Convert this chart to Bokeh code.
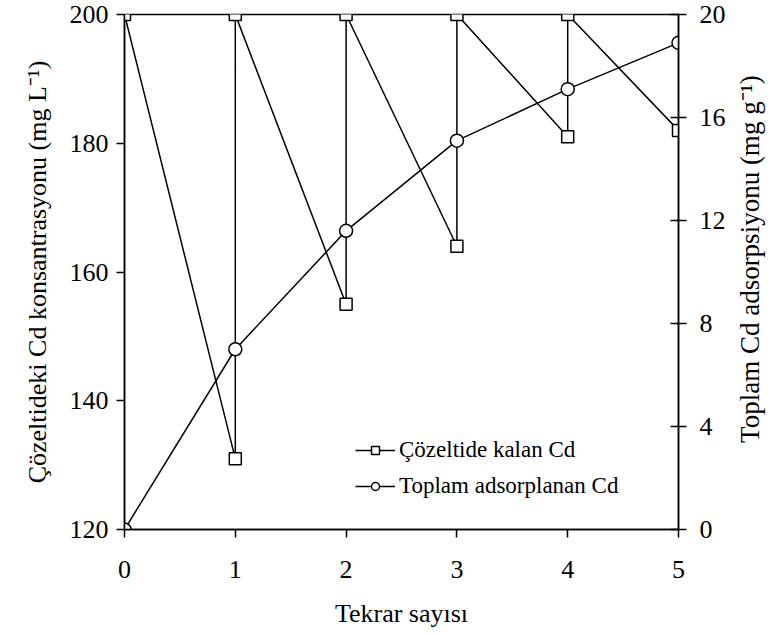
import math
from bokeh.plotting import figure
from bokeh.layouts import row
from bokeh.models import Range1d, LinearAxis, FixedTicker, Legend, LegendItem
from bokeh.core.properties import value
from bokeh.embed import file_html
from bokeh.resources import INLINE

# Repetition number
tekrar = [0, 1, 2, 3, 4, 5]
# Fresh solution concentration added at the start of each repetition (mg/L)
baslangic = 200
# Cd remaining in solution after each repetition (mg/L)
kalan_cd = [131, 155, 164, 181, 182]
# Cumulative adsorbed Cd (mg/g)
toplam_cd = [0, 7.0, 11.6, 15.1, 17.1, 18.9]

left_ticks = [120, 140, 160, 180, 200]
right_ticks = [0, 4, 8, 12, 16, 20]

right_title = "Toplam Cd adsorpsiyonu (mg g⁻¹)"

# Sawtooth path: each repetition starts from the fresh concentration
saw_x, saw_y = [tekrar[0]], [baslangic]
for i, c in enumerate(kalan_cd):
    saw_x.append(tekrar[i + 1])
    saw_y.append(c)
    if i < len(kalan_cd) - 1:
        saw_x.append(tekrar[i + 1])
        saw_y.append(baslangic)

FONT = "Liberation Serif"
TICK_FS = "26px"
LABEL_FS = "26px"
TOP, BOTTOM = 14, 107
MAIN_W, SIDE_W = 736, 38

p = figure(width=MAIN_W, height=636, output_backend="svg", toolbar_location=None,
           x_range=Range1d(0, 5), y_range=Range1d(120, 200),
           min_border_left=124, min_border_right=MAIN_W - 678,
           min_border_top=TOP, min_border_bottom=BOTTOM)
p.extra_y_ranges = {"ads": Range1d(0, 20)}
p.grid.visible = False
p.outline_line_color = "black"
p.outline_line_width = 1.5
p.background_fill_color = "white"
p.border_fill_color = "white"

def style_axis(ax):
    ax.axis_line_color = "black"
    ax.axis_line_width = 1.5
    ax.major_tick_line_color = "black"
    ax.major_tick_line_width = 1.5
    ax.minor_tick_line_color = None
    ax.major_label_text_font = FONT
    ax.major_label_text_font_size = TICK_FS
    ax.major_label_text_color = "black"
    ax.axis_label_text_font = FONT
    ax.axis_label_text_font_size = LABEL_FS
    ax.axis_label_text_font_style = "normal"
    ax.axis_label_text_color = "black"

xa = p.xaxis[0]
xa.ticker = FixedTicker(ticks=tekrar)
xa.axis_label = "Tekrar sayısı"
xa.major_tick_in = 0
xa.major_tick_out = 8
xa.major_label_standoff = 23
xa.axis_label_standoff = 18
style_axis(xa)

ya = p.yaxis[0]
ya.ticker = FixedTicker(ticks=left_ticks)
ya.axis_label = "Çözeltideki Cd konsantrasyonu (mg L⁻¹)"
ya.major_tick_in = 0
ya.major_tick_out = 8
ya.major_label_standoff = 8
ya.axis_label_standoff = 15
style_axis(ya)

ra = LinearAxis(y_range_name="ads")
ra.ticker = FixedTicker(ticks=right_ticks)
ra.major_tick_in = 8
ra.major_tick_out = 8
ra.major_label_standoff = 13
style_axis(ra)
p.add_layout(ra, "right")

l1 = p.line(saw_x, saw_y, line_color="black", line_width=1.5)
s1 = p.scatter(saw_x, saw_y, marker="square", size=12, fill_color="white",
               line_color="black", line_width=1.5)

l2 = p.line(tekrar, toplam_cd, y_range_name="ads", line_color="black", line_width=1.5)
s2 = p.scatter(tekrar, toplam_cd, y_range_name="ads", marker="circle", size=13,
               fill_color="white", line_color="black", line_width=1.5)

legend = Legend(items=[LegendItem(label="Çözeltide kalan Cd", renderers=[l1, s1]),
                       LegendItem(label="Toplam adsorplanan Cd", renderers=[l2, s2])],
                location=(231, 30), orientation="vertical",
                glyph_width=40, glyph_height=20, label_height=20,
                spacing=10, padding=0, margin=0, label_standoff=4,
                background_fill_alpha=0, border_line_color=None,
                label_text_font=FONT, label_text_font_size="23px",
                label_text_color="black")
p.add_layout(legend, "center")

# Narrow strip on the right carrying the right-hand axis title,
# rotated to read bottom-to-top like the left one
side = figure(width=SIDE_W, height=636, output_backend="svg", toolbar_location=None,
              x_range=Range1d(0, SIDE_W), y_range=Range1d(0, 20),
              min_border_left=0, min_border_right=0,
              min_border_top=TOP, min_border_bottom=BOTTOM)
side.axis.visible = False
side.grid.visible = False
side.outline_line_color = None
side.border_fill_color = "white"
side.background_fill_color = "white"
side.text(x=[13], y=[10.5], text=[right_title], angle=math.pi / 2,
          text_align="center", text_baseline="middle",
          text_font=value(FONT), text_font_size="27px", text_color="black")

layout = row(p, side, spacing=0)

open("out.html", "w").write(file_html(layout, INLINE))
